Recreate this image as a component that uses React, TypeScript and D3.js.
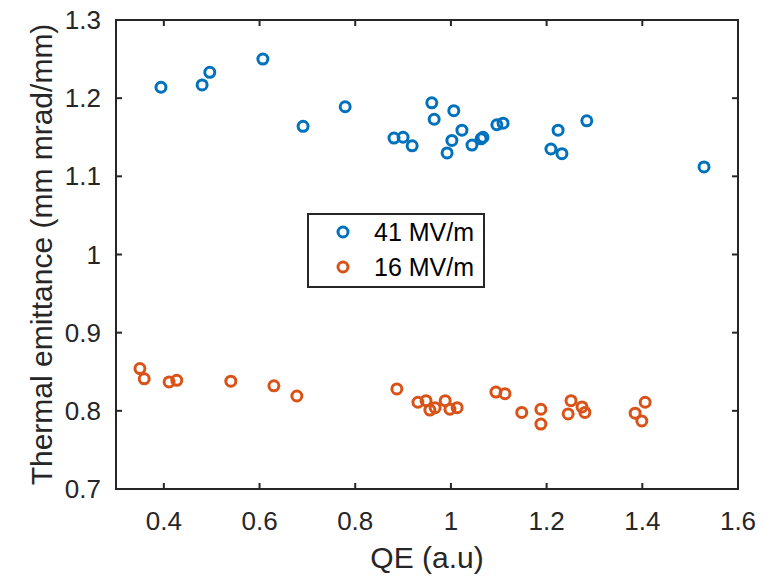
import React from "react";
import * as d3 from "d3";

const blueX = [0.394, 0.480, 0.496, 0.607, 0.691, 0.779, 0.881, 0.900, 0.919, 0.960, 0.965, 0.992, 1.002, 1.006, 1.023, 1.044, 1.063, 1.067, 1.096, 1.109, 1.209, 1.224, 1.232, 1.284, 1.529];
const blueY = [1.214, 1.217, 1.233, 1.250, 1.164, 1.189, 1.149, 1.150, 1.139, 1.194, 1.173, 1.130, 1.146, 1.184, 1.159, 1.140, 1.148, 1.150, 1.166, 1.168, 1.135, 1.159, 1.129, 1.171, 1.112];
const orangeX = [0.350, 0.359, 0.411, 0.427, 0.540, 0.630, 0.678, 0.887, 0.931, 0.948, 0.956, 0.967, 0.988, 0.998, 1.013, 1.094, 1.113, 1.148, 1.188, 1.188, 1.251, 1.245, 1.274, 1.280, 1.385, 1.406, 1.399];
const orangeY = [0.854, 0.841, 0.837, 0.839, 0.838, 0.832, 0.819, 0.828, 0.811, 0.813, 0.801, 0.804, 0.813, 0.802, 0.804, 0.824, 0.822, 0.798, 0.802, 0.783, 0.813, 0.796, 0.805, 0.798, 0.797, 0.811, 0.787];
const xTicks = [0.4, 0.6, 0.8, 1, 1.2, 1.4, 1.6];
const yTicks = [0.7, 0.8, 0.9, 1, 1.1, 1.2, 1.3];
const seriesNames = ["41 MV/m", "16 MV/m"];
const seriesColors = ["#0072BD", "#D95319"];

export default function App() {
  const W = 776, H = 576;
  const L = 116, R = 738, T = 20, B = 489;
  const x = d3.scaleLinear().domain([0.3, 1.6]).range([L, R]);
  const y = d3.scaleLinear().domain([0.7, 1.3]).range([B, T]);
  const axisColor = "#262626";
  const font = "'Liberation Sans', Arial, Helvetica, sans-serif";
  const tk = 6;
  const series = [
    { xs: blueX, ys: blueY },
    { xs: orangeX, ys: orangeY },
  ];
  const fmt = (v: number) => String(+v.toFixed(1));
  return (
    <svg width={W} height={H} style={{ position: "absolute", left: 0, top: 0, background: "#fff" }} fontFamily={font}>
      <rect x={0} y={0} width={W} height={H} fill="#fff" />
      {series.map((s, si) => (
        <g key={si}>
          {s.xs.map((xv, i) => (
            <circle key={i} cx={x(xv)} cy={y(s.ys[i])} r={5} fill="none" stroke={seriesColors[si]} strokeWidth={3} />
          ))}
        </g>
      ))}
      <rect x={L} y={T} width={R - L} height={B - T} fill="none" stroke={axisColor} strokeWidth={2} />
      {xTicks.map((t) => (
        <g key={"x" + t}>
          <line x1={x(t)} x2={x(t)} y1={B} y2={B - tk} stroke={axisColor} strokeWidth={2} />
          <line x1={x(t)} x2={x(t)} y1={T} y2={T + tk} stroke={axisColor} strokeWidth={2} />
          <text x={x(t)} y={530} textAnchor="middle" fontSize={26} fill={axisColor}>{fmt(t)}</text>
        </g>
      ))}
      {yTicks.map((t) => (
        <g key={"y" + t}>
          <line x1={L} x2={L + tk} y1={y(t)} y2={y(t)} stroke={axisColor} strokeWidth={2} />
          <line x1={R} x2={R - tk} y1={y(t)} y2={y(t)} stroke={axisColor} strokeWidth={2} />
          <text x={101} y={y(t)} dy="0.35em" textAnchor="end" fontSize={26} fill={axisColor}>{fmt(t)}</text>
        </g>
      ))}
      <text x={(L + R) / 2} y={568} textAnchor="middle" fontSize={30} fill={axisColor}>QE (a.u)</text>
      <text transform={`translate(52,${(T + B) / 2}) rotate(-90)`} textAnchor="middle" fontSize={30} fill={axisColor}>Thermal emittance (mm mrad/mm)</text>
      <g>
        <rect x={308} y={214} width={176} height={73} fill="#fff" stroke={axisColor} strokeWidth={2} />
        {seriesNames.map((n, i) => (
          <g key={n}>
            <circle cx={343} cy={232 + i * 35} r={5} fill="none" stroke={seriesColors[i]} strokeWidth={3} />
            <text x={374} y={232 + i * 35} dy="0.35em" fontSize={25} fill="#000">{n}</text>
          </g>
        ))}
      </g>
    </svg>
  );
}
